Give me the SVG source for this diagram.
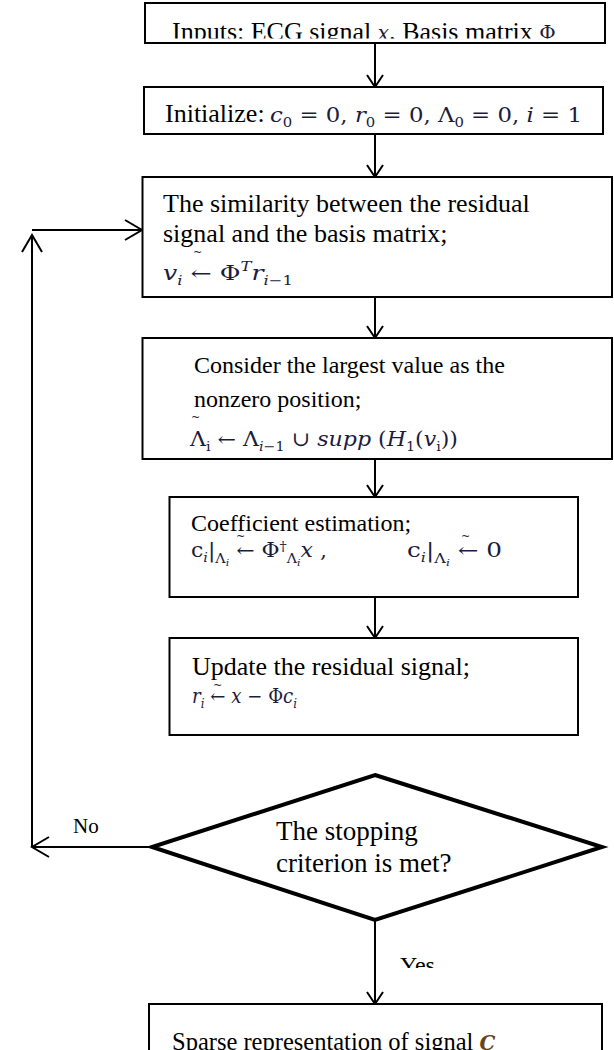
<svg xmlns="http://www.w3.org/2000/svg" width="614" height="1050" viewBox="0 0 614 1050">
<style>
.box{fill:#fff;stroke:#000;stroke-width:2}
.dia{fill:#fff;stroke:#000;stroke-width:4;stroke-linejoin:miter}
.t{font-family:"Liberation Serif","Times New Roman",serif;font-size:26px;fill:#000}
.t24{font-size:24px}
.t21{font-size:21px}
.t27{font-size:27px}
.m{font-family:"DejaVu Serif",serif;font-size:20px;fill:#1c1c3c}
.i{font-style:italic}
.s{font-size:13px}
.ss{font-size:10px}
.tl{font-family:"DejaVu Serif",serif;font-size:11px;fill:#1c1c3c}
.ln{fill:none;stroke:#000;stroke-width:2}
</style>
<defs>
<marker id="a" markerUnits="userSpaceOnUse" markerWidth="30" markerHeight="30" refX="0" refY="0" viewBox="-15 -15 30 30" orient="auto">
<path d="M-12,-8 L0,0 L-12,8" fill="none" stroke="#000" stroke-width="2"/>
</marker>
<marker id="b" markerUnits="userSpaceOnUse" markerWidth="40" markerHeight="40" refX="0" refY="0" viewBox="-20 -20 40 40" orient="auto">
<path d="M-17,-10 L0,0 L-17,10" fill="none" stroke="#000" stroke-width="2"/>
</marker>
<clipPath id="c1"><rect x="0" y="0" width="614" height="38.5"/></clipPath>
<clipPath id="c2"><rect x="0" y="900" width="614" height="68"/></clipPath>
</defs>

<g id="connectors">
<path class="ln" d="M375,43 V87" marker-end="url(#a)"/>
<path class="ln" d="M375,134 V177" marker-end="url(#a)"/>
<path class="ln" d="M375,297 V338" marker-end="url(#a)"/>
<path class="ln" d="M375,459 V497" marker-end="url(#a)"/>
<path class="ln" d="M375,597 V638" marker-end="url(#a)"/>
<path class="ln" d="M375,920 V1004" marker-end="url(#a)"/>
<path class="ln" d="M152,847 H32" marker-end="url(#b)"/>
<path class="ln" d="M32,847 V235" marker-end="url(#b)"/>
<path class="ln" d="M32,230 H142" marker-end="url(#b)"/>
<text class="t t21" x="73" y="833">No</text>
<text class="t t24" x="400" y="973" clip-path="url(#c2)">Yes</text>
</g>

<g id="n1">
<rect class="box" x="145" y="3" width="460" height="40"/>
<text class="t" x="172" y="40" clip-path="url(#c1)">Inputs: ECG signal <tspan class="m i">x</tspan>, Basis matrix <tspan class="m">Φ</tspan></text>
</g>

<g id="n2">
<rect class="box" x="144" y="87" width="459" height="47"/>
<text class="t" x="165" y="122">Initialize:</text>
<text class="m" x="270" y="122" textLength="312" lengthAdjust="spacingAndGlyphs"><tspan class="i">c</tspan><tspan class="s" dy="5">0</tspan><tspan dy="-5"> = 0, </tspan><tspan class="i">r</tspan><tspan class="s" dy="5">0</tspan><tspan dy="-5"> = 0, Λ</tspan><tspan class="s" dy="5">0</tspan><tspan dy="-5"> = 0, </tspan><tspan class="i">i</tspan> = 1</text>
</g>

<g id="n3">
<rect class="box" x="142.5" y="177" width="469.5" height="120"/>
<text class="t" x="163" y="212">The similarity between the residual</text>
<text class="t" x="163" y="242">signal and the basis matrix;</text>
<text class="tl" x="193" y="256">~</text>
<text class="m" x="163" y="280" textLength="130" lengthAdjust="spacingAndGlyphs"><tspan class="i">v</tspan><tspan class="s i" dy="5">i</tspan><tspan dy="-5"> ← Φ</tspan><tspan class="s i" dy="-9">T</tspan><tspan class="i" dy="9">r</tspan><tspan class="s i" dy="5">i</tspan><tspan class="s">−1</tspan></text>
</g>

<g id="n4">
<rect class="box" x="142.5" y="338" width="469.5" height="121"/>
<text class="t t24" x="194" y="373">Consider the largest value as the</text>
<text class="t t24" x="194" y="407">nonzero position;</text>
<text class="tl" x="191" y="421">~</text>
<text class="m" x="190" y="446" textLength="268" lengthAdjust="spacingAndGlyphs">Λ<tspan class="s" dy="5">i</tspan><tspan dy="-5"> ← Λ</tspan><tspan class="s" dy="5"><tspan class="i">i</tspan>−1</tspan><tspan dy="-5">  ∪ </tspan><tspan class="i">supp</tspan> (<tspan class="i">H</tspan><tspan class="s" dy="5">1</tspan><tspan dy="-5">(</tspan><tspan class="i">v</tspan><tspan class="s" dy="5">i</tspan><tspan dy="-5">))</tspan></text>
</g>

<g id="n5">
<rect class="box" x="169.5" y="497" width="408.5" height="100"/>
<text class="t t24" x="191" y="531">Coefficient estimation;</text>
<text class="tl" x="236" y="540">~</text>
<text class="m" x="191" y="557" textLength="136" lengthAdjust="spacingAndGlyphs">c<tspan class="s i" dy="5">i</tspan><tspan dy="-5">|</tspan><tspan class="s" dy="6">Λ</tspan><tspan class="ss i" dy="3">i</tspan><tspan dy="-9"> ← Φ</tspan><tspan class="s" dy="-6">†</tspan><tspan class="s" dy="12">Λ</tspan><tspan class="ss i" dy="3">i</tspan><tspan class="i" dy="-9">x</tspan> ,</text>
<text class="tl" x="461" y="540">~</text>
<text class="m" x="407" y="557" textLength="95" lengthAdjust="spacingAndGlyphs">c<tspan class="s i" dy="5">i</tspan><tspan dy="-5">|</tspan><tspan class="s" dy="6">Λ</tspan><tspan class="ss i" dy="3">i</tspan><tspan dy="-9"> ← 0</tspan></text>
</g>

<g id="n6">
<rect class="box" x="169.5" y="638" width="408.5" height="97"/>
<text class="t" x="192" y="675">Update the residual signal;</text>
<text class="tl" x="213" y="689">~</text>
<text class="m" x="192" y="703" textLength="105" lengthAdjust="spacingAndGlyphs"><tspan class="i">r</tspan><tspan class="s i" dy="5">i</tspan><tspan dy="-5"> ← </tspan><tspan class="i">x</tspan> −  Φ<tspan class="i">c</tspan><tspan class="s i" dy="5">i</tspan></text>
</g>

<g id="n7">
<polygon class="dia" points="375,775 602,847 375,920 152,847"/>
<text class="t t27" x="276" y="840">The stopping</text>
<text class="t t27" x="276" y="872">criterion is met?</text>
</g>

<g id="n8">
<rect class="box" x="149" y="1004" width="453" height="60"/>
<text class="t" x="172" y="1050" style="font-size:24.5px">Sparse representation of signal <tspan class="m i" style="font-weight:bold;fill:#6a4418">C</tspan></text>
</g>
</svg>
